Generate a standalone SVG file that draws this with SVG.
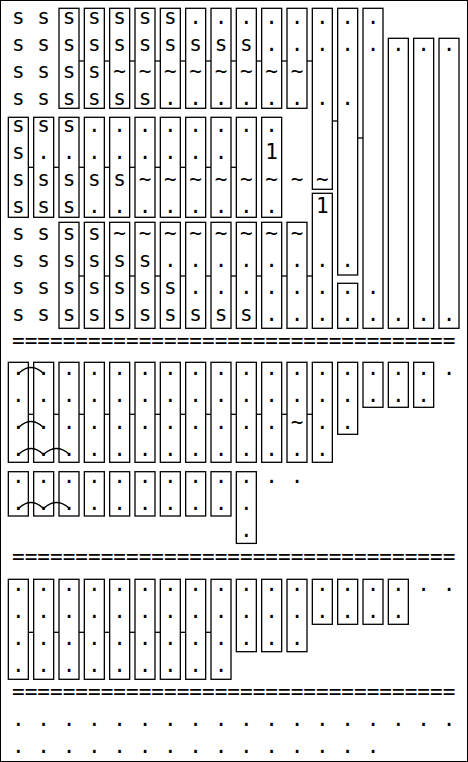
<svg xmlns="http://www.w3.org/2000/svg" width="468" height="762" viewBox="0 0 468 762">
<style>
text{font-family:"DejaVu Sans Mono","Liberation Mono",monospace;font-size:21px;fill:#000}
.t{text-anchor:middle}
.b{fill:none;stroke:#000;stroke-width:1.3}
.c line,.c path{stroke:#000;stroke-width:1.3;fill:none}
</style>
<rect x="0.5" y="0.5" width="467" height="761" fill="#fff" stroke="#000" stroke-width="1"/>
<g id="connectors" class="c">
<line x1="79" y1="61" x2="84.33" y2="61"/><line x1="104.33" y1="61" x2="109.67" y2="61"/><line x1="129.67" y1="61" x2="135" y2="61"/><line x1="155" y1="61" x2="160.33" y2="61"/><line x1="180.33" y1="61" x2="185.67" y2="61"/><line x1="205.67" y1="61" x2="211" y2="61"/><line x1="231" y1="61" x2="236.33" y2="61"/><line x1="256.33" y1="61" x2="261.67" y2="61"/><line x1="281.67" y1="61" x2="287" y2="61"/><line x1="307" y1="61" x2="312.33" y2="61"/>
<line x1="332.33" y1="121" x2="337.67" y2="121"/><line x1="357.67" y1="138" x2="363" y2="138"/>
<line x1="28.33" y1="167.3" x2="33.67" y2="167.3"/><line x1="53.67" y1="167.3" x2="59" y2="167.3"/><line x1="79" y1="167.3" x2="84.33" y2="167.3"/><line x1="104.33" y1="167.3" x2="109.67" y2="167.3"/><line x1="129.67" y1="167.3" x2="135" y2="167.3"/><line x1="155" y1="167.3" x2="160.33" y2="167.3"/><line x1="180.33" y1="167.3" x2="185.67" y2="167.3"/><line x1="205.67" y1="167.3" x2="211" y2="167.3"/><line x1="231" y1="167.3" x2="236.33" y2="167.3"/>
<line x1="79" y1="276" x2="84.33" y2="276"/><line x1="104.33" y1="276" x2="109.67" y2="276"/><line x1="129.67" y1="276" x2="135" y2="276"/><line x1="155" y1="276" x2="160.33" y2="276"/><line x1="180.33" y1="276" x2="185.67" y2="276"/><line x1="205.67" y1="276" x2="211" y2="276"/><line x1="231" y1="276" x2="236.33" y2="276"/><line x1="256.33" y1="276" x2="261.67" y2="276"/><line x1="281.67" y1="276" x2="287" y2="276"/><line x1="307" y1="276" x2="312.33" y2="276"/>
<line x1="28.33" y1="414.3" x2="33.67" y2="414.3"/><line x1="53.67" y1="414.3" x2="59" y2="414.3"/><line x1="79" y1="414.3" x2="84.33" y2="414.3"/><line x1="104.33" y1="414.3" x2="109.67" y2="414.3"/><line x1="129.67" y1="414.3" x2="135" y2="414.3"/><line x1="155" y1="414.3" x2="160.33" y2="414.3"/><line x1="180.33" y1="414.3" x2="185.67" y2="414.3"/><line x1="205.67" y1="414.3" x2="211" y2="414.3"/><line x1="231" y1="414.3" x2="236.33" y2="414.3"/><line x1="256.33" y1="414.3" x2="261.67" y2="414.3"/><line x1="281.67" y1="414.3" x2="287" y2="414.3"/><line x1="307" y1="414.3" x2="312.33" y2="414.3"/>
<line x1="28.33" y1="632.3" x2="33.67" y2="632.3"/><line x1="53.67" y1="632.3" x2="59" y2="632.3"/><line x1="79" y1="632.3" x2="84.33" y2="632.3"/><line x1="104.33" y1="632.3" x2="109.67" y2="632.3"/><line x1="129.67" y1="632.3" x2="135" y2="632.3"/><line x1="155" y1="632.3" x2="160.33" y2="632.3"/><line x1="180.33" y1="632.3" x2="185.67" y2="632.3"/><line x1="205.67" y1="632.3" x2="211" y2="632.3"/>
<path d="M19 373 Q31 362 43 373"/><path d="M19 427 Q31 416 43 427"/><path d="M19 454 Q31 443 43 454"/><path d="M44 454 Q56.5 443 69 454"/>
<path d="M19 508 Q31 497 43 508"/><path d="M44 508 Q56.5 497 69 508"/>
</g>
<!-- Block A -->
<g id="A0"><text class="t" x="18.33 18.33 18.33 18.33" y="24.3 51.3 78.2 105.2">ssss</text></g>
<g id="A1"><text class="t" x="43.67 43.67 43.67 43.67" y="24.3 51.3 78.2 105.2">ssss</text></g>
<g id="A2"><rect class="b" x="59" y="8.3" width="20" height="100"/><text class="t" x="69 69 69 69" y="24.3 51.3 78.2 105.2">ssss</text></g>
<g id="A3"><rect class="b" x="84.33" y="8.3" width="20" height="100"/><text class="t" x="94.33 94.33 94.33 94.33" y="24.3 51.3 78.2 105.2">ssss</text></g>
<g id="A4"><rect class="b" x="109.67" y="8.3" width="20" height="100"/><text class="t" x="119.67 119.67 119.67 119.67" y="24.3 51.3 78.2 105.2">ss~s</text></g>
<g id="A5"><rect class="b" x="135" y="8.3" width="20" height="100"/><text class="t" x="145 145 145 145" y="24.3 51.3 78.2 105.2">ss~s</text></g>
<g id="A6"><rect class="b" x="160.33" y="8.3" width="20" height="100"/><text class="t" x="170.33 170.33 170.33 170.33" y="24.3 51.3 78.2 105.2">ss~.</text></g>
<g id="A7"><rect class="b" x="185.67" y="8.3" width="20" height="100"/><text class="t" x="195.67 195.67 195.67 195.67" y="24.3 51.3 78.2 105.2">.s~.</text></g>
<g id="A8"><rect class="b" x="211" y="8.3" width="20" height="100"/><text class="t" x="221 221 221 221" y="24.3 51.3 78.2 105.2">.s~.</text></g>
<g id="A9"><rect class="b" x="236.33" y="8.3" width="20" height="100"/><text class="t" x="246.33 246.33 246.33 246.33" y="24.3 51.3 78.2 105.2">.s~.</text></g>
<g id="A10"><rect class="b" x="261.67" y="8.3" width="20" height="100"/><text class="t" x="271.67 271.67 271.67 271.67" y="24.3 51.3 78.2 105.2">..~.</text></g>
<g id="A11"><rect class="b" x="287" y="8.3" width="20" height="100"/><text class="t" x="297 297 297 297" y="24.3 51.3 78.2 105.2">..~.</text></g>
<g id="A12"><rect class="b" x="312.33" y="8.3" width="20" height="181"/><text class="t" x="322.33 322.33 322.33 322.33" y="24.3 51.3 105.2 186.1">...~</text></g>
<g id="A13"><rect class="b" x="337.67" y="8.3" width="20" height="266.7"/><text class="t" x="347.67 347.67 347.67 347.67" y="24.3 51.3 105.2 267">....</text></g>
<g id="A14"><rect class="b" x="363" y="8.3" width="20" height="320"/><text class="t" x="373 373 373 373" y="24.3 51.3 294 321">....</text></g>
<g id="A15"><rect class="b" x="388.33" y="38.3" width="20" height="290"/><text class="t" x="398.33 398.33" y="51.3 321">..</text></g>
<g id="A16"><rect class="b" x="413.67" y="38.3" width="20" height="290"/><text class="t" x="423.67 423.67" y="51.3 321">..</text></g>
<g id="A17"><rect class="b" x="439" y="38.3" width="20" height="290"/><text class="t" x="449 449" y="51.3 321">..</text></g>
<!-- Block B -->
<g id="B0"><rect class="b" x="8.33" y="117.3" width="20" height="100"/><text class="t" x="18.33 18.33 18.33 18.33" y="132.2 159.2 186.1 213.1">ssss</text></g>
<g id="B1"><rect class="b" x="33.67" y="117.3" width="20" height="100"/><text class="t" x="43.67 43.67 43.67 43.67" y="132.2 159.2 186.1 213.1">s.ss</text></g>
<g id="B2"><rect class="b" x="59" y="117.3" width="20" height="100"/><text class="t" x="69 69 69 69" y="132.2 159.2 186.1 213.1">s.ss</text></g>
<g id="B3"><rect class="b" x="84.33" y="117.3" width="20" height="100"/><text class="t" x="94.33 94.33 94.33 94.33" y="132.2 159.2 186.1 213.1">..s.</text></g>
<g id="B4"><rect class="b" x="109.67" y="117.3" width="20" height="100"/><text class="t" x="119.67 119.67 119.67 119.67" y="132.2 159.2 186.1 213.1">..s.</text></g>
<g id="B5"><rect class="b" x="135" y="117.3" width="20" height="100"/><text class="t" x="145 145 145 145" y="132.2 159.2 186.1 213.1">..~.</text></g>
<g id="B6"><rect class="b" x="160.33" y="117.3" width="20" height="100"/><text class="t" x="170.33 170.33 170.33 170.33" y="132.2 159.2 186.1 213.1">..~.</text></g>
<g id="B7"><rect class="b" x="185.67" y="117.3" width="20" height="100"/><text class="t" x="195.67 195.67 195.67 195.67" y="132.2 159.2 186.1 213.1">..~.</text></g>
<g id="B8"><rect class="b" x="211" y="117.3" width="20" height="100"/><text class="t" x="221 221 221 221" y="132.2 159.2 186.1 213.1">..~.</text></g>
<g id="B9"><rect class="b" x="236.33" y="117.3" width="20" height="100"/><text class="t" x="246.33 246.33 246.33" y="132.2 186.1 213.1">.~.</text></g>
<g id="B10"><rect class="b" x="261.67" y="117.3" width="20" height="100"/><text class="t" x="271.67 271.67 271.67 271.67" y="132.2 159.2 186.1 213.1">.1~.</text></g>
<g id="B11"><text class="t" x="297" y="186.1">~</text></g>
<g id="B12"><rect class="b" x="312.33" y="193.3" width="20" height="135"/><text class="t" x="322.33 322.33 322.33 322.33" y="213.1 267 294 321">1...</text></g>
<!-- Block C -->
<g id="C0"><text class="t" x="18.33 18.33 18.33 18.33" y="240.1 267 294 321">ssss</text></g>
<g id="C1"><text class="t" x="43.67 43.67 43.67 43.67" y="240.1 267 294 321">ssss</text></g>
<g id="C2"><rect class="b" x="59" y="222.3" width="20" height="106"/><text class="t" x="69 69 69 69" y="240.1 267 294 321">ssss</text></g>
<g id="C3"><rect class="b" x="84.33" y="222.3" width="20" height="106"/><text class="t" x="94.33 94.33 94.33 94.33" y="240.1 267 294 321">ssss</text></g>
<g id="C4"><rect class="b" x="109.67" y="222.3" width="20" height="106"/><text class="t" x="119.67 119.67 119.67 119.67" y="240.1 267 294 321">~sss</text></g>
<g id="C5"><rect class="b" x="135" y="222.3" width="20" height="106"/><text class="t" x="145 145 145 145" y="240.1 267 294 321">~sss</text></g>
<g id="C6"><rect class="b" x="160.33" y="222.3" width="20" height="106"/><text class="t" x="170.33 170.33 170.33 170.33" y="240.1 267 294 321">~.ss</text></g>
<g id="C7"><rect class="b" x="185.67" y="222.3" width="20" height="106"/><text class="t" x="195.67 195.67 195.67 195.67" y="240.1 267 294 321">~..s</text></g>
<g id="C8"><rect class="b" x="211" y="222.3" width="20" height="106"/><text class="t" x="221 221 221 221" y="240.1 267 294 321">~..s</text></g>
<g id="C9"><rect class="b" x="236.33" y="222.3" width="20" height="106"/><text class="t" x="246.33 246.33 246.33 246.33" y="240.1 267 294 321">~..s</text></g>
<g id="C10"><rect class="b" x="261.67" y="222.3" width="20" height="106"/><text class="t" x="271.67 271.67 271.67 271.67" y="240.1 267 294 321">~...</text></g>
<g id="C11"><rect class="b" x="287" y="222.3" width="20" height="106"/><text class="t" x="297 297 297 297" y="240.1 267 294 321">~...</text></g>
<g id="C13"><rect class="b" x="337.67" y="283.3" width="20" height="45"/><text class="t" x="347.67 347.67" y="294 321">..</text></g>
<g id="sep1"><text x="12" y="347.9" textLength="443.33" lengthAdjust="spacing">===================================</text></g>
<!-- Block D -->
<g id="D0"><rect class="b" x="8.33" y="362.3" width="20" height="100"/><text class="t" x="18.33 18.33 18.33 18.33" y="374.9 401.9 428.9 455.8">....</text></g>
<g id="D1"><rect class="b" x="33.67" y="362.3" width="20" height="100"/><text class="t" x="43.67 43.67 43.67 43.67" y="374.9 401.9 428.9 455.8">....</text></g>
<g id="D2"><rect class="b" x="59" y="362.3" width="20" height="100"/><text class="t" x="69 69 69 69" y="374.9 401.9 428.9 455.8">....</text></g>
<g id="D3"><rect class="b" x="84.33" y="362.3" width="20" height="100"/><text class="t" x="94.33 94.33 94.33 94.33" y="374.9 401.9 428.9 455.8">....</text></g>
<g id="D4"><rect class="b" x="109.67" y="362.3" width="20" height="100"/><text class="t" x="119.67 119.67 119.67 119.67" y="374.9 401.9 428.9 455.8">....</text></g>
<g id="D5"><rect class="b" x="135" y="362.3" width="20" height="100"/><text class="t" x="145 145 145 145" y="374.9 401.9 428.9 455.8">....</text></g>
<g id="D6"><rect class="b" x="160.33" y="362.3" width="20" height="100"/><text class="t" x="170.33 170.33 170.33 170.33" y="374.9 401.9 428.9 455.8">....</text></g>
<g id="D7"><rect class="b" x="185.67" y="362.3" width="20" height="100"/><text class="t" x="195.67 195.67 195.67 195.67" y="374.9 401.9 428.9 455.8">....</text></g>
<g id="D8"><rect class="b" x="211" y="362.3" width="20" height="100"/><text class="t" x="221 221 221 221" y="374.9 401.9 428.9 455.8">....</text></g>
<g id="D9"><rect class="b" x="236.33" y="362.3" width="20" height="100"/><text class="t" x="246.33 246.33 246.33 246.33" y="374.9 401.9 428.9 455.8">....</text></g>
<g id="D10"><rect class="b" x="261.67" y="362.3" width="20" height="100"/><text class="t" x="271.67 271.67 271.67 271.67" y="374.9 401.9 428.9 455.8">....</text></g>
<g id="D11"><rect class="b" x="287" y="362.3" width="20" height="100"/><text class="t" x="297 297 297 297" y="374.9 401.9 428.9 455.8">..~.</text></g>
<g id="D12"><rect class="b" x="312.33" y="362.3" width="20" height="100"/><text class="t" x="322.33 322.33 322.33 322.33" y="374.9 401.9 428.9 455.8">....</text></g>
<g id="D13"><rect class="b" x="337.67" y="362.3" width="20" height="72"/><text class="t" x="347.67 347.67 347.67" y="374.9 401.9 428.9">...</text></g>
<g id="D14"><rect class="b" x="363" y="362.3" width="20" height="45"/><text class="t" x="373 373" y="374.9 401.9">..</text></g>
<g id="D15"><rect class="b" x="388.33" y="362.3" width="20" height="45"/><text class="t" x="398.33 398.33" y="374.9 401.9">..</text></g>
<g id="D16"><rect class="b" x="413.67" y="362.3" width="20" height="45"/><text class="t" x="423.67 423.67" y="374.9 401.9">..</text></g>
<g id="D17"><text class="t" x="449" y="374.9">.</text></g>
<!-- Block E -->
<g id="E0"><rect class="b" x="8.33" y="471.7" width="20" height="44.3"/><text class="t" x="18.33 18.33" y="482.8 509.8">..</text></g>
<g id="E1"><rect class="b" x="33.67" y="471.7" width="20" height="44.3"/><text class="t" x="43.67 43.67" y="482.8 509.8">..</text></g>
<g id="E2"><rect class="b" x="59" y="471.7" width="20" height="44.3"/><text class="t" x="69 69" y="482.8 509.8">..</text></g>
<g id="E3"><rect class="b" x="84.33" y="471.7" width="20" height="44.3"/><text class="t" x="94.33 94.33" y="482.8 509.8">..</text></g>
<g id="E4"><rect class="b" x="109.67" y="471.7" width="20" height="44.3"/><text class="t" x="119.67 119.67" y="482.8 509.8">..</text></g>
<g id="E5"><rect class="b" x="135" y="471.7" width="20" height="44.3"/><text class="t" x="145 145" y="482.8 509.8">..</text></g>
<g id="E6"><rect class="b" x="160.33" y="471.7" width="20" height="44.3"/><text class="t" x="170.33 170.33" y="482.8 509.8">..</text></g>
<g id="E7"><rect class="b" x="185.67" y="471.7" width="20" height="44.3"/><text class="t" x="195.67 195.67" y="482.8 509.8">..</text></g>
<g id="E8"><rect class="b" x="211" y="471.7" width="20" height="44.3"/><text class="t" x="221 221" y="482.8 509.8">..</text></g>
<g id="E9"><rect class="b" x="236.33" y="471.7" width="20" height="71.7"/><text class="t" x="246.33 246.33 246.33" y="482.8 509.8 536.7">...</text></g>
<g id="E10"><text class="t" x="271.67 297" y="482.8 482.8">..</text></g>
<g id="sep2"><text x="12" y="563.7" textLength="443.33" lengthAdjust="spacing">===================================</text></g>
<!-- Block F -->
<g id="F0"><rect class="b" x="8.33" y="579.3" width="20" height="100"/><text class="t" x="18.33 18.33 18.33 18.33" y="590.7 617.6 644.6 671.6">....</text></g>
<g id="F1"><rect class="b" x="33.67" y="579.3" width="20" height="100"/><text class="t" x="43.67 43.67 43.67 43.67" y="590.7 617.6 644.6 671.6">....</text></g>
<g id="F2"><rect class="b" x="59" y="579.3" width="20" height="100"/><text class="t" x="69 69 69 69" y="590.7 617.6 644.6 671.6">....</text></g>
<g id="F3"><rect class="b" x="84.33" y="579.3" width="20" height="100"/><text class="t" x="94.33 94.33 94.33 94.33" y="590.7 617.6 644.6 671.6">....</text></g>
<g id="F4"><rect class="b" x="109.67" y="579.3" width="20" height="100"/><text class="t" x="119.67 119.67 119.67 119.67" y="590.7 617.6 644.6 671.6">....</text></g>
<g id="F5"><rect class="b" x="135" y="579.3" width="20" height="100"/><text class="t" x="145 145 145 145" y="590.7 617.6 644.6 671.6">....</text></g>
<g id="F6"><rect class="b" x="160.33" y="579.3" width="20" height="100"/><text class="t" x="170.33 170.33 170.33 170.33" y="590.7 617.6 644.6 671.6">....</text></g>
<g id="F7"><rect class="b" x="185.67" y="579.3" width="20" height="100"/><text class="t" x="195.67 195.67 195.67 195.67" y="590.7 617.6 644.6 671.6">....</text></g>
<g id="F8"><rect class="b" x="211" y="579.3" width="20" height="100"/><text class="t" x="221 221 221 221" y="590.7 617.6 644.6 671.6">....</text></g>
<g id="F9"><rect class="b" x="236.33" y="579.3" width="20" height="72.4"/><text class="t" x="246.33 246.33 246.33" y="590.7 617.6 644.6">...</text></g>
<g id="F10"><rect class="b" x="261.67" y="579.3" width="20" height="72.4"/><text class="t" x="271.67 271.67 271.67" y="590.7 617.6 644.6">...</text></g>
<g id="F11"><rect class="b" x="287" y="579.3" width="20" height="72.4"/><text class="t" x="297 297 297" y="590.7 617.6 644.6">...</text></g>
<g id="F12"><rect class="b" x="312.33" y="579.3" width="20" height="45"/><text class="t" x="322.33 322.33" y="590.7 617.6">..</text></g>
<g id="F13"><rect class="b" x="337.67" y="579.3" width="20" height="45"/><text class="t" x="347.67 347.67" y="590.7 617.6">..</text></g>
<g id="F14"><rect class="b" x="363" y="579.3" width="20" height="45"/><text class="t" x="373 373" y="590.7 617.6">..</text></g>
<g id="F15"><rect class="b" x="388.33" y="579.3" width="20" height="45"/><text class="t" x="398.33 398.33" y="590.7 617.6">..</text></g>
<g id="F16"><text class="t" x="423.67 449" y="590.7 590.7">..</text></g>
<g id="sep3"><text x="12" y="698.5" textLength="443.33" lengthAdjust="spacing">===================================</text></g>
<!-- Block G -->
<g id="G0"><text class="t" x="18.33 43.67 69 94.33 119.67 145 170.33 195.67 221 246.33 271.67 297 322.33 347.67 373 398.33 423.67 449" y="725.5">..................</text></g>
<g id="G1"><text class="t" x="18.33 43.67 69 94.33 119.67 145 170.33 195.67 221 246.33 271.67 297 322.33 347.67 373" y="752.5">...............</text></g>
</svg>
